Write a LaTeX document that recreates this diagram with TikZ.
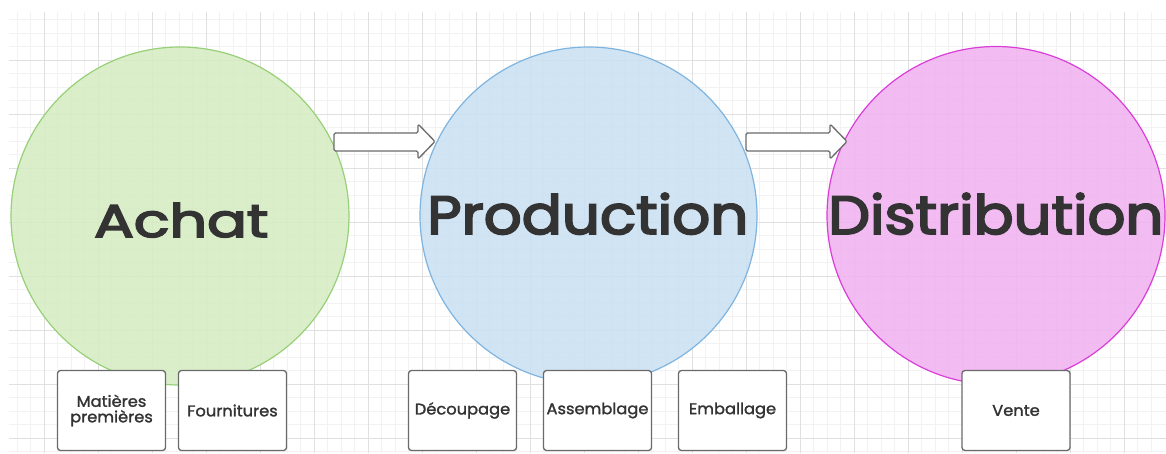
\documentclass[tikz,border=0pt]{standalone}
\usepackage{fontspec}
\setmainfont{Poppins}
\usepackage{graphicx}
\definecolor{gridminor}{HTML}{F2F2F2}
\definecolor{gridmajor}{HTML}{E0E0E0}
\definecolor{greenfill}{HTML}{D6ECC3}
\definecolor{greenline}{HTML}{97D077}
\definecolor{bluefill}{HTML}{CBE0F2}
\definecolor{blueline}{HTML}{7EB4E0}
\definecolor{pinkfill}{HTML}{F0B2F0}
\definecolor{pinkline}{HTML}{DA3ED8}
\definecolor{txt}{HTML}{333333}
\definecolor{boxline}{HTML}{6A6A6A}
\tikzset{
  phase/.style={circle, line width=1.2pt, fill opacity=0.88, inner sep=0pt},
  bigtext/.style={anchor=base west, inner sep=0pt, text=txt},
  taskbox/.style={draw=boxline, fill=white, rounded corners=3pt, line width=1.3pt,
    minimum width=108pt, minimum height=80pt, inner sep=0pt, align=center,
    text=txt, font=\fontsize{15.5}{16.5}\selectfont\addfontfeature{FakeBold=1.6,FakeStretch=1.05}},
  blockarrow/.style={draw=boxline, fill=white, line width=1.3pt, rounded corners=1.5pt, line join=round}
}
\begin{document}
\begin{tikzpicture}[x=1pt,y=-1pt]
\useasboundingbox (0,0) rectangle (1166,453);
% grid
\foreach \i in {0,...,85} {
  \pgfmathsetmacro{\gx}{3.5+13.5*\i}
  \ifdim\gx pt>9pt \draw[gridminor, line width=1pt] (\gx,12) -- (\gx,453); \fi
}
\foreach \i in {0,...,33} {
  \pgfmathsetmacro{\gy}{6+13.5*\i}
  \ifdim\gy pt>12pt \draw[gridminor, line width=1pt] (9,\gy) -- (1166,\gy); \fi
}
\foreach \i in {0,...,21} {
  \pgfmathsetmacro{\gx}{44+54*\i}
  \draw[gridmajor, line width=1pt] (\gx,12) -- (\gx,453);
}
\foreach \i in {0,...,7} {
  \pgfmathsetmacro{\gy}{60+54*\i}
  \draw[gridmajor, line width=1pt] (9,\gy) -- (1166,\gy);
}
% circles
\node[phase, draw=greenline, fill=greenfill, minimum size=338pt] (achat) at (180,216) {};
\node[phase, draw=blueline, fill=bluefill, minimum size=337pt] (prod) at (588.5,215.5) {};
\node[phase, draw=pinkline, fill=pinkfill, minimum size=338pt] (dist) at (996,215.5) {};
% titles
\node[bigtext] (achatT) at (94,237) {\resizebox{174pt}{34pt}{\addfontfeature{FakeBold=3.4}Achat}};
\node[bigtext] (prodT) at (427,234) {\resizebox{321pt}{41pt}{\addfontfeature{FakeBold=3.4}Production}};
\node[bigtext] (distT) at (828,234) {\resizebox{335pt}{41pt}{\addfontfeature{FakeBold=3.4}Distribution}};
% block arrows
\draw[blockarrow] (334,133) -- (418,133) -- (418,124) -- (435,141.5) -- (418,159) -- (418,151) -- (334,151) -- cycle;
\draw[blockarrow] (746,133) -- (830,133) -- (830,124) -- (847,141.5) -- (830,159) -- (830,151) -- (746,151) -- cycle;
% task boxes
\node[taskbox] (mp) at (111.5,410.5) {Matières\\[-1pt]premières};
\node[taskbox] (fo) at (232.5,410.5) {Fournitures};
\node[taskbox] (de) at (462.5,410.5) {Découpage};
\node[taskbox] (as) at (597.5,410.5) {Assemblage};
\node[taskbox] (em) at (732.5,410.5) {Emballage};
\node[taskbox] (ve) at (1016,410.5) {Vente};
\end{tikzpicture}
\end{document}
